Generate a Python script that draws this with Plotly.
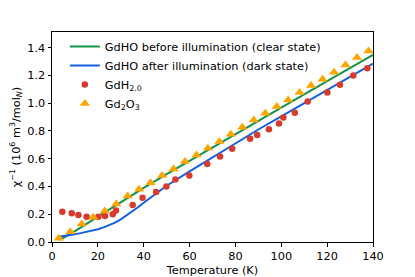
import plotly.graph_objects as go

# GdHO before illumination (clear state) - curve
t_clear = [3, 5, 10, 15, 20, 25, 30, 40, 50, 60, 80, 100, 120, 140]
chi_clear = [0.015, 0.03, 0.078, 0.13, 0.185, 0.237, 0.288, 0.39, 0.488, 0.585, 0.78, 0.968, 1.158, 1.347]

# GdHO after illumination (dark state) - curve
t_dark = [3, 5, 8, 10, 12.5, 15, 17.5, 20, 22.5, 25, 27.5, 30, 32.5, 35, 37.5, 40, 42.5, 45,
          50, 60, 70, 80, 90, 100, 120, 140]
chi_dark = [0.038, 0.042, 0.05, 0.056, 0.064, 0.072, 0.081, 0.092, 0.105, 0.12, 0.14, 0.163,
            0.19, 0.22, 0.25, 0.282, 0.313, 0.343, 0.405, 0.508, 0.61, 0.713, 0.81, 0.905,
            1.095, 1.285]

# GdH2.0 points
t_gdh = [4.5, 8.6, 11.5, 15.1, 20.2, 23.1, 26.5, 27.9, 35.2, 39.5, 45.4, 49.9, 53.8, 59.9,
         67.7, 73.3, 78.6, 86.4, 89.5, 94.6, 99, 100.9, 105.9, 111.5, 120.1, 125.6, 131.4, 137.5]
chi_gdh = [0.218, 0.207, 0.195, 0.182, 0.182, 0.187, 0.2, 0.226, 0.267, 0.318, 0.36, 0.399,
           0.45, 0.478, 0.562, 0.615, 0.672, 0.744, 0.771, 0.812, 0.853, 0.896, 0.93, 1.011,
           1.077, 1.133, 1.198, 1.251]

# Gd2O3 points
t_gdo = [3, 8, 13, 18, 23, 28, 33, 38, 43, 48, 53, 58, 63, 68, 73, 78, 83, 88, 93, 98,
         103, 108, 113, 118, 123, 128, 133, 138]
chi_gdo = [0.027, 0.074, 0.13, 0.178, 0.223, 0.274, 0.331, 0.38, 0.427, 0.478, 0.526, 0.579,
           0.627, 0.675, 0.723, 0.776, 0.826, 0.879, 0.927, 0.975, 1.023, 1.076, 1.126, 1.172,
           1.223, 1.275, 1.328, 1.376]

x_ticks = [0, 20, 40, 60, 80, 100, 120, 140]
y_ticks = [0.0, 0.2, 0.4, 0.6, 0.8, 1.0, 1.2, 1.4]

fig = go.Figure()
fig.add_trace(go.Scatter(x=t_clear, y=chi_clear, mode="lines", line=dict(color="#149245", width=2),
                         name="GdHO before illumination (clear state)"))
fig.add_trace(go.Scatter(x=t_dark, y=chi_dark, mode="lines", line=dict(color="#1560e0", width=2),
                         name="GdHO after illumination (dark state)"))
fig.add_trace(go.Scatter(x=t_gdh, y=chi_gdh, mode="markers",
                         marker=dict(color="#d83a2e", size=6.5, symbol="circle"),
                         name="GdH<sub>2.0</sub>"))
fig.add_trace(go.Scatter(x=t_gdo, y=chi_gdo, mode="markers",
                         marker=dict(color="#ffa500", size=9, symbol="triangle-up"),
                         name="Gd<sub>2</sub>O<sub>3</sub>"))

axis_common = dict(showline=True, linecolor="black", linewidth=1, mirror=True, automargin=False,
                   ticks="outside", ticklen=3.5, tickcolor="black", showgrid=False, zeroline=False,
                   tickfont=dict(family="DejaVu Sans", size=11.3, color="black"))

fig.update_layout(
    width=415, height=277,
    margin=dict(l=52, r=42, t=32, b=35, autoexpand=False),
    paper_bgcolor="white", plot_bgcolor="white",
    font=dict(family="DejaVu Sans", size=11.3, color="black"),
    showlegend=True,
    legend=dict(x=0.04, y=1.0, xanchor="left", yanchor="top", bgcolor="rgba(255,255,255,0)",
                font=dict(family="DejaVu Sans", size=11.3), tracegroupgap=0),
    xaxis=dict(range=[0, 140], tickvals=x_ticks, ticktext=[str(v) for v in x_ticks],
               title=dict(text="Temperature (K)", standoff=5, font=dict(size=11.3)), **axis_common),
    yaxis=dict(range=[0, 1.512], tickvals=y_ticks, ticktext=[f"{v:.1f}" for v in y_ticks],
               title=dict(text="χ<sup>−1</sup> (10<sup>6</sup> m<sup>3</sup>/mol<sub><i>N</i></sub>)",
                          standoff=4, font=dict(size=11.3)), **axis_common),
)

fig.write_html("out.html", config={"displayModeBar": False},
               post_script="document.body.style.margin='0px';document.body.style.overflow='hidden';")
